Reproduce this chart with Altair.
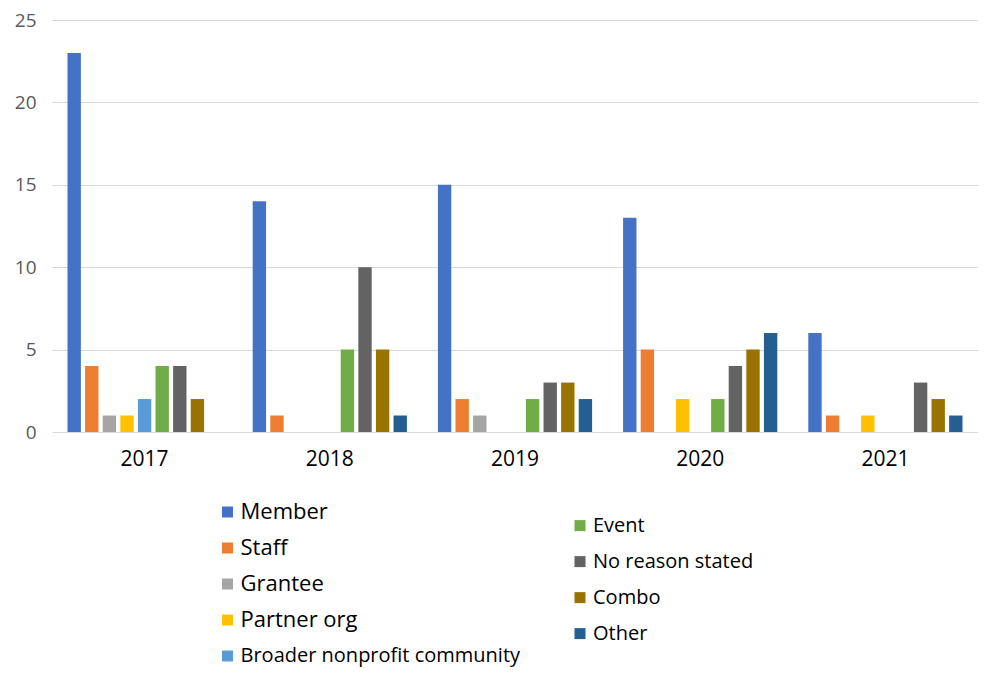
import altair as alt
import pandas as pd

years = ["2017", "2018", "2019", "2020", "2021"]
categories = ["Member", "Staff", "Grantee", "Partner org", "Broader nonprofit community",
              "Event", "No reason stated", "Combo", "Other"]
colors = ["#4472C4", "#ED7D31", "#A5A5A5", "#FFC000", "#5B9BD5",
          "#70AD47", "#636363", "#997300", "#255E91"]

member = [23, 14, 15, 13, 6]
staff = [4, 1, 2, 5, 1]
grantee = [1, 0, 1, 0, 0]
partner = [1, 0, 0, 2, 1]
broader = [2, 0, 0, 0, 0]
event = [4, 5, 2, 2, 0]
no_reason = [4, 10, 3, 4, 3]
combo = [2, 5, 3, 5, 2]
other = [0, 1, 2, 6, 1]

series = [member, staff, grantee, partner, broader, event, no_reason, combo, other]

rows = []
for cat, vals in zip(categories, series):
    for y, v in zip(years, vals):
        rows.append({"Year": y, "Category": cat, "Count": v})
df = pd.DataFrame(rows)

leg = pd.DataFrame({"Category": categories})
leg["idx"] = range(len(categories))

FONT = "Open Sans"
W, H = 926, 412

color_scale = alt.Scale(domain=categories, range=colors)

bars = alt.Chart(df).mark_bar().encode(
    x=alt.X("Year:N", sort=years, title=None,
            scale=alt.Scale(paddingInner=0, paddingOuter=0),
            axis=alt.Axis(labelAngle=0, domain=False, ticks=False, labelFontSize=21,
                          labelColor="#000000", labelFont=FONT, labelPadding=16)),
    xOffset=alt.XOffset("Category:N", sort=categories,
                        scale=alt.Scale(paddingInner=0.24, paddingOuter=0.88)),
    y=alt.Y("Count:Q", title=None,
            scale=alt.Scale(domain=[0, 25]),
            axis=alt.Axis(values=[0, 5, 10, 15, 20, 25], domain=False, ticks=False,
                          gridColor="#d9d9d9", labelFontSize=19, labelColor="#595959",
                          labelFont=FONT, labelPadding=16)),
    color=alt.Color("Category:N", scale=color_scale, legend=None),
)

leg_base = alt.Chart(leg).transform_calculate(
    col="datum.idx >= 5 ? 1 : 0",
    row="datum.idx >= 5 ? datum.idx - 5 + 0.378 : datum.idx",
    big="datum.idx < 4 ? 1 : 0",
)

lx = alt.X("col:Q", scale=alt.Scale(domain=[0, 1], range=[175.5, 528]), axis=None)
ly = alt.Y("row:Q", scale=alt.Scale(domain=[0, 4], range=[492, 636]), axis=None)

leg_sq = leg_base.mark_square(size=121, opacity=1).encode(
    x=lx, y=ly,
    color=alt.Color("Category:N", scale=color_scale, legend=None),
)
leg_txt = leg_base.mark_text(align="left", baseline="middle", dx=13, font=FONT,
                             color="#000000").encode(
    x=lx, y=ly,
    text="Category:N",
    size=alt.condition("datum.big == 1", alt.value(22), alt.value(20)),
)

chart = alt.layer(bars, leg_sq, leg_txt).resolve_scale(
    x="independent", y="independent"
).properties(
    width=W, height=H,
    padding={"left": 6, "top": 3, "right": 0, "bottom": 3},
).configure_view(stroke=None)

chart.save("out.html", embed_options={"renderer": "svg", "actions": False})
